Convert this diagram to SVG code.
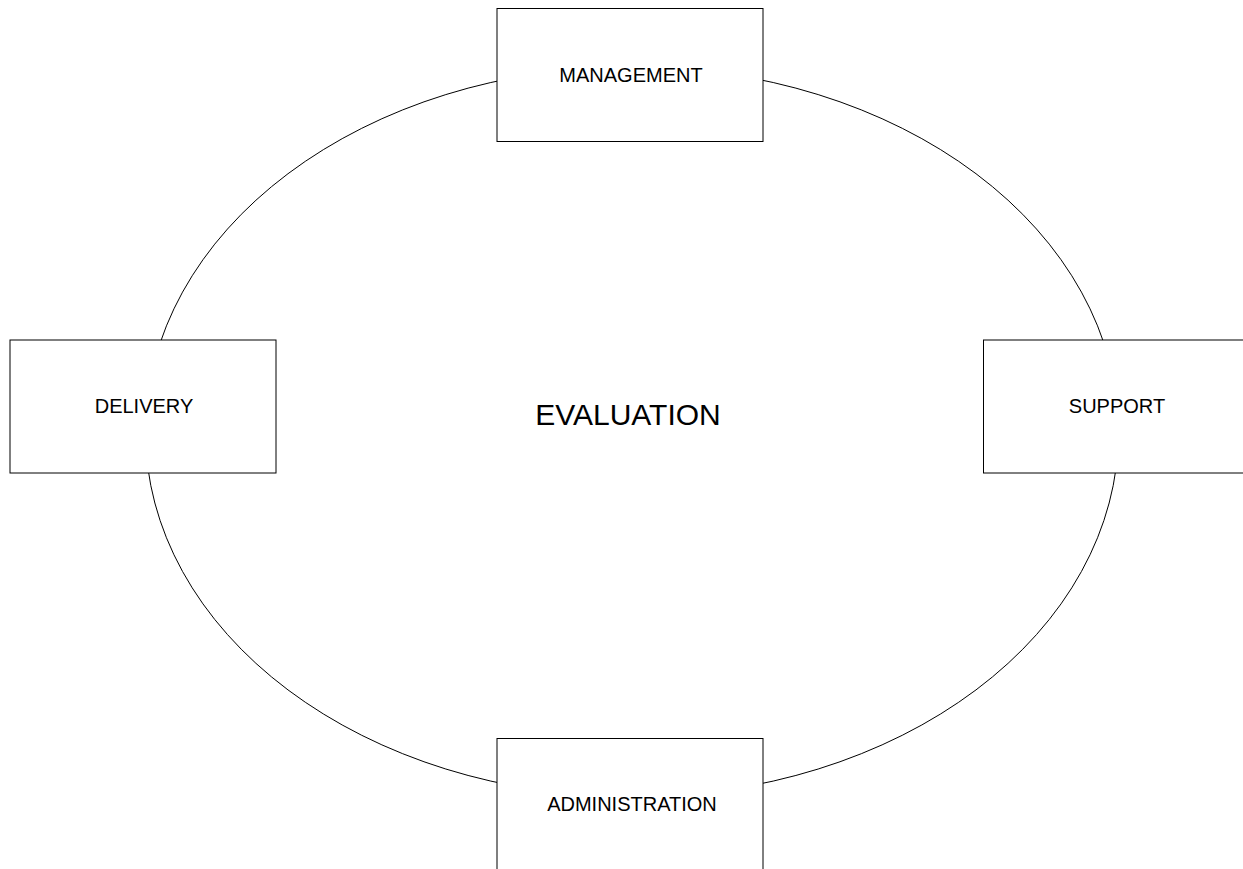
<svg xmlns="http://www.w3.org/2000/svg" width="1243" height="869" viewBox="0 0 1243 869">
<style>
.box{fill:#ffffff;stroke:#000000;stroke-width:1}
.lbl{font-family:"Liberation Sans",Arial,sans-serif;font-size:20px;fill:#000000;text-anchor:middle}
.big{font-family:"Liberation Sans",Arial,sans-serif;font-size:30px;fill:#000000;text-anchor:middle}
.conn{fill:none;stroke:#000000;stroke-width:1}
</style>
<rect width="1243" height="869" fill="#ffffff"/>
<g id="connectors">
<ellipse class="conn" cx="632" cy="431.8" rx="486.5" ry="365"/>
</g>
<g id="evaluation">
<text class="big" x="628" y="425">EVALUATION</text>
</g>
<g id="management">
<rect class="box" x="497" y="8.5" width="266" height="133"/>
<text class="lbl" x="631" y="82">MANAGEMENT</text>
</g>
<g id="delivery">
<rect class="box" x="10" y="340" width="266" height="133"/>
<text class="lbl" x="144" y="413">DELIVERY</text>
</g>
<g id="support">
<rect class="box" x="983.5" y="340" width="266" height="133"/>
<text class="lbl" x="1117" y="413">SUPPORT</text>
</g>
<g id="administration">
<rect class="box" x="497" y="738.5" width="266" height="133"/>
<text class="lbl" x="632" y="811">ADMINISTRATION</text>
</g>
</svg>
